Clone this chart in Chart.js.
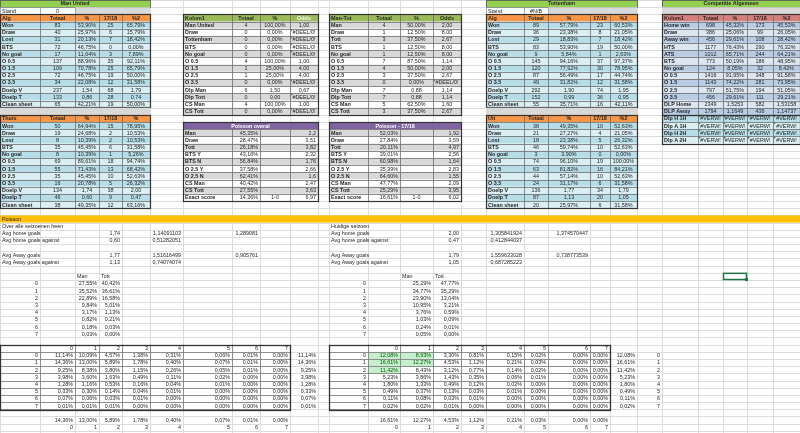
<!DOCTYPE html>
<html>
<head>
<meta charset="utf-8">
<script src="https://cdn.jsdelivr.net/npm/chart.js@4/dist/chart.umd.min.js"></script>
<style>
  html, body { margin: 0; padding: 0; background: #fff; overflow: hidden; }
  canvas { display: block; }
</style>
</head>
<body>
<canvas id="sheet" width="800" height="433"></canvas>
<script>
// ===== Team stats (Man United / Tottenham) =====
const algRows = ["Won", "Draw", "Lost", "BTS", "No goal", "O 0.5", "O 1.5", "O 2.5", "O 3.5", "Doelp V", "Doelp T", "Clean sheet"];
const headAlg = ["Alg", "Totaal", "%", "17/18", "%2"];
const headThuis = ["Thuis", "Totaal", "%", "17/18", "%"];
const headUit = ["Uit", "Totaal", "%", "17/18", "%2"];

const manAlg = [
  ["83", "53,90%", "25", "65,79%"], ["40", "25,97%", "6", "15,79%"], ["31", "20,13%", "7", "18,42%"],
  ["72", "46,75%", "0", "0,00%"], ["17", "11,04%", "3", "7,89%"], ["137", "88,96%", "35", "92,11%"],
  ["109", "70,78%", "25", "65,79%"], ["72", "46,75%", "19", "50,00%"], ["34", "22,08%", "12", "31,58%"],
  ["237", "1,54", "68", "1,79"], ["133", "0,86", "28", "0,74"], ["65", "42,21%", "19", "50,00%"]
];
const manThuis = [
  ["50", "64,94%", "15", "78,95%"], ["19", "24,68%", "2", "10,53%"], ["8", "10,39%", "2", "10,53%"],
  ["35", "45,45%", "6", "31,58%"], ["8", "10,39%", "1", "5,26%"], ["69", "89,61%", "18", "94,74%"],
  ["55", "71,43%", "13", "68,42%"], ["35", "45,45%", "10", "52,63%"], ["16", "20,78%", "5", "26,32%"],
  ["134", "1,74", "38", "2,00"], ["46", "0,60", "9", "0,47"], ["38", "49,35%", "12", "63,16%"]
];
const totAlg = [
  ["89", "57,79%", "23", "60,53%"], ["36", "23,38%", "8", "21,05%"], ["29", "18,83%", "7", "18,42%"],
  ["83", "53,90%", "19", "50,00%"], ["9", "5,84%", "1", "2,63%"], ["145", "94,16%", "37", "97,37%"],
  ["120", "77,92%", "30", "78,95%"], ["87", "56,49%", "17", "44,74%"], ["49", "31,82%", "12", "31,58%"],
  ["292", "1,90", "74", "1,95"], ["152", "0,99", "36", "0,95"], ["55", "35,71%", "16", "42,11%"]
];
const totUit = [
  ["38", "49,35%", "10", "52,63%"], ["21", "27,27%", "4", "21,05%"], ["18", "23,38%", "5", "26,32%"],
  ["46", "59,74%", "10", "52,63%"], ["3", "3,90%", "0", "0,00%"], ["74", "96,10%", "19", "100,00%"],
  ["63", "81,82%", "16", "84,21%"], ["44", "57,14%", "10", "52,63%"], ["24", "31,17%", "6", "31,58%"],
  ["136", "1,77", "34", "1,79"], ["87", "1,13", "20", "1,05"], ["20", "25,97%", "6", "31,58%"]
];

// ===== Head to head =====
const h2hHead = ["Kolom1", "Totaal", "%", "Odds"];
const h2hRows = ["Man United", "Draw", "Tottenham", "BTS", "No goal", "O 0.5", "O 1.5", "O 2.5", "O 3.5", "Dlp Man", "Dlp Tott", "CS Man", "CS Tott"];
const h2hVals = [
  ["4", "100,00%", "1,00"], ["0", "0,00%", "#DEEL/0!"], ["0", "0,00%", "#DEEL/0!"], ["0", "0,00%", "#DEEL/0!"],
  ["0", "0,00%", "#DEEL/0!"], ["4", "100,00%", "1,00"], ["1", "25,00%", "4,00"], ["1", "25,00%", "4,00"],
  ["0", "0,00%", "#DEEL/0!"], ["6", "1,50", "0,67"], ["0", "0,00", "#DEEL/0!"], ["4", "100,00%", "1,00"],
  ["0", "0,00%", "#DEEL/0!"]
];
const mtHead = ["Man-Tot", "Totaal", "%", "Odds"];
const mtRows = ["Man", "Draw", "Tott", "BTS", "No goal", "O 0.5", "O 1.5", "O 2.5", "O 3.5", "Dlp Man", "Dlp Tott", "CS Man", "CS Tott"];
const mtVals = [
  ["4", "50,00%", "2,00"], ["1", "12,50%", "8,00"], ["3", "37,50%", "2,67"], ["1", "12,50%", "8,00"],
  ["1", "12,50%", "8,00"], ["7", "87,50%", "1,14"], ["4", "50,00%", "2,00"], ["3", "37,50%", "2,67"],
  ["0", "0,00%", "#DEEL/0!"], ["7", "0,88", "1,14"], ["7", "0,88", "1,14"], ["5", "62,50%", "1,60"],
  ["3", "37,50%", "2,67"]
];

// ===== Poisson summary tables =====
const poisRows = ["Man", "Draw", "Tott", "BTS Y", "BTS N", "O 2.5 Y", "O 2.5 N", "CS Man", "CS Tott", "Exact score"];
const poisAll = [
  ["45,35%", "", "2,2"], ["28,47%", "", "3,51"], ["26,18%", "", "3,82"], ["43,16%", "", "2,32"], ["56,84%", "", "1,76"],
  ["37,58%", "", "2,66"], ["62,41%", "", "1,6"], ["40,42%", "", "2,47"], ["27,55%", "", "3,63"], ["14,36%", "1-0", "6,97"]
];
const pois1718 = [
  ["52,03%", "", "1,92"], ["27,84%", "", "3,59"], ["20,11%", "", "4,97"], ["39,01%", "", "2,56"], ["60,98%", "", "1,64"],
  ["35,39%", "", "2,83"], ["64,60%", "", "1,55"], ["47,77%", "", "2,09"], ["25,29%", "", "3,95"], ["16,61%", "1-0", "6,02"]
];

// ===== Competitie Algemeen =====
const compHead = ["Kolom1", "Totaal", "%", "17/18", "%2"];
const compRows = ["Home win", "Draw", "Away win", "HTS", "ATS", "BTS", "No goal", "O 0.5", "O 1.5", "O 2.5", "O 3.5", "DLP Home", "DLP Away", "Dlp H 1H", "Dlp A 1H", "Dlp H 2H", "Dlp A 2H"];
const compVals = [
  ["698", "45,32%", "173", "45,53%"], ["386", "25,06%", "99", "26,05%"], ["456", "29,61%", "108", "28,42%"],
  ["1177", "76,43%", "290", "76,32%"], ["1012", "65,71%", "244", "64,21%"], ["773", "50,19%", "186", "48,95%"],
  ["124", "8,05%", "32", "8,42%"], ["1416", "91,95%", "348", "91,58%"], ["1143", "74,22%", "281", "73,95%"],
  ["797", "51,75%", "194", "51,05%"], ["456", "29,61%", "111", "29,21%"], ["2349", "1,5253", "582", "1,53158"],
  ["1794", "1,1649", "436", "1,14737"],
  ["#VERW!", "#VERW!", "#VERW!", "#VERW!"], ["#VERW!", "#VERW!", "#VERW!", "#VERW!"],
  ["#VERW!", "#VERW!", "#VERW!", "#VERW!"], ["#VERW!", "#VERW!", "#VERW!", "#VERW!"]
];

// ===== Poisson section =====
const avgLabels = ["Avg home goals", "Avg home goals against", "", "Avg Away goals", "Avg Away goals against"];
const avgAll = [["1,74", "1,14091103", "1,289081"], ["0,60", "0,51282051", ""], ["", "", ""], ["1,77", "1,51616499", "0,905761"], ["1,13", "0,74074074", ""]];
const avgNow = [["2,00", "1,305841924", "1,374570447"], ["0,47", "0,412844037", ""], ["", "", ""], ["1,79", "1,559633028", "0,738773539"], ["1,05", "0,687285223", ""]];

const goals = ["0", "1", "2", "3", "4", "5", "6", "7"];
const goalsAllMan = ["27,55%", "35,52%", "22,89%", "9,84%", "3,17%", "0,82%", "0,18%", "0,03%"];
const goalsAllTot = ["40,42%", "36,61%", "16,58%", "5,01%", "1,13%", "0,21%", "0,03%", "0,00%"];
const goalsNowMan = ["25,29%", "34,77%", "23,90%", "10,95%", "3,76%", "1,03%", "0,24%", "0,05%"];
const goalsNowTot = ["47,77%", "35,29%", "13,04%", "3,21%", "0,59%", "0,09%", "0,01%", "0,00%"];

const scoreAll = [
  ["11,14%", "10,09%", "4,57%", "1,38%", "0,31%", "0,06%", "0,01%", "0,00%"],
  ["14,36%", "13,00%", "5,89%", "1,78%", "0,40%", "0,07%", "0,01%", "0,00%"],
  ["9,25%", "8,38%", "3,80%", "1,15%", "0,26%", "0,05%", "0,01%", "0,00%"],
  ["3,98%", "3,60%", "1,63%", "0,49%", "0,11%", "0,02%", "0,00%", "0,00%"],
  ["1,28%", "1,16%", "0,53%", "0,16%", "0,04%", "0,01%", "0,00%", "0,00%"],
  ["0,33%", "0,30%", "0,14%", "0,04%", "0,01%", "0,00%", "0,00%", "0,00%"],
  ["0,07%", "0,06%", "0,03%", "0,01%", "0,00%", "0,00%", "0,00%", "0,00%"],
  ["0,01%", "0,01%", "0,01%", "0,00%", "0,00%", "0,00%", "0,00%", "0,00%"]
];
const scoreAllRowMax = ["11,14%", "14,36%", "9,25%", "3,98%", "1,28%", "0,33%", "0,07%", "0,01%"];
const scoreAllColMax = ["14,36%", "13,00%", "5,89%", "1,78%", "0,40%", "0,07%", "0,01%", "0,00%"];

const scoreNow = [
  ["12,08%", "8,93%", "3,30%", "0,81%", "0,15%", "0,02%", "0,00%", "0,00%"],
  ["16,61%", "12,27%", "4,53%", "1,12%", "0,21%", "0,03%", "0,00%", "0,00%"],
  ["11,42%", "8,43%", "3,12%", "0,77%", "0,14%", "0,02%", "0,00%", "0,00%"],
  ["5,23%", "3,86%", "1,43%", "0,35%", "0,06%", "0,01%", "0,00%", "0,00%"],
  ["1,80%", "1,33%", "0,49%", "0,12%", "0,02%", "0,00%", "0,00%", "0,00%"],
  ["0,49%", "0,37%", "0,13%", "0,03%", "0,01%", "0,00%", "0,00%", "0,00%"],
  ["0,11%", "0,08%", "0,03%", "0,01%", "0,00%", "0,00%", "0,00%", "0,00%"],
  ["0,02%", "0,02%", "0,01%", "0,00%", "0,00%", "0,00%", "0,00%", "0,00%"]
];
const scoreNowRowMax = ["12,08%", "16,61%", "11,42%", "5,23%", "1,80%", "0,49%", "0,11%", "0,02%"];
const scoreNowColMax = ["16,61%", "12,27%", "4,53%", "1,12%", "0,21%", "0,03%", "0,00%", "0,00%"];
const scoreNowHighlight = [[0, 0], [1, 0], [2, 0], [0, 1], [1, 1]];

// ===== Sheet layout (column edges in sheet units, row count) =====
const colEdges = [0, 40, 75, 99, 122, 150, 183, 232, 260, 290, 318, 329, 368, 400, 433, 461, 486, 524, 548, 590, 610, 637, 662, 698, 723, 747, 773, 800];
const rowCount = 433 / 7.18;

const GREEN = "#92d050", ORANGE = "#f79646", GREY = "#d9d9d9";
const BLUE_D = "#b7dee8", BLUE_L = "#daeef3";
const OLIVE = "#9bbb59", PURPLE = "#8064a2", RED = "#d6807d";
const STEEL_D = "#b8cce4", STEEL_L = "#dce6f1";
const FONT = '"Liberation Sans", Arial, sans-serif';

const sheetPlugin = {
  id: "sheet",
  afterDraw(chart) {
    const ctx = chart.ctx, xs = chart.scales.x, ys = chart.scales.y;
    const X = c => xs.getPixelForValue(colEdges[c]);
    const Y = r => ys.getPixelForValue(r);
    const snap = v => Math.round(v) + 0.5;

    const fill = (c0, c1, r, color) => {
      ctx.fillStyle = color;
      ctx.fillRect(X(c0), Y(r), X(c1 + 1) - X(c0), Y(r + 1) - Y(r));
    };
    const write = (c0, c1, r, s, align, st = {}) => {
      if (!s) return;
      const x0 = X(c0), x1 = X(c1 + 1);
      ctx.font = (st.bold ? "bold " : "") + "5.4px " + FONT;
      ctx.fillStyle = st.color || "#262626";
      ctx.textBaseline = "middle";
      ctx.textAlign = align;
      const x = align === "left" ? x0 + 2 : align === "right" ? x1 - 2 : (x0 + x1) / 2;
      ctx.fillText(s, x, (Y(r) + Y(r + 1)) / 2 + 0.4);
      if (s[0] === "#" && s.length > 4) { // error marker
        ctx.fillStyle = "#1e8a3c";
        ctx.beginPath();
        ctx.moveTo(x0 + 0.5, Y(r) + 0.5); ctx.lineTo(x0 + 3, Y(r) + 0.5); ctx.lineTo(x0 + 0.5, Y(r) + 3);
        ctx.fill();
      }
    };
    const grid = (c0, c1, r0, r1, color, w) => {
      ctx.strokeStyle = color; ctx.lineWidth = w;
      ctx.beginPath();
      for (let c = c0; c <= c1 + 1; c++) { const x = snap(X(c)); ctx.moveTo(x, Y(r0)); ctx.lineTo(x, Y(r1 + 1)); }
      for (let r = r0; r <= r1 + 1; r++) { const y = snap(Y(r)); ctx.moveTo(X(c0), y); ctx.lineTo(X(c1 + 1), y); }
      ctx.stroke();
    };
    const outline = (c0, c1, r0, r1, color, w) => {
      ctx.strokeStyle = color; ctx.lineWidth = w;
      ctx.strokeRect(snap(X(c0)), snap(Y(r0)), Math.round(X(c1 + 1) - X(c0)), Math.round(Y(r1 + 1) - Y(r0)));
    };

    ctx.save();
    ctx.fillStyle = "#fff";
    ctx.fillRect(0, 0, chart.width, chart.height);

    // excel gridlines
    ctx.strokeStyle = "#dcdcdc"; ctx.lineWidth = 1;
    ctx.beginPath();
    colEdges.forEach((_, c) => { const x = snap(X(c)); ctx.moveTo(x, 0); ctx.lineTo(x, chart.height); });
    for (let r = 0; r <= Math.ceil(rowCount); r++) { const y = snap(Y(r)); ctx.moveTo(0, y); ctx.lineTo(chart.width, y); }
    ctx.stroke();

    // team stat tables
    function statTable(c, r, head, vals) {
      head.forEach((h, i) => { fill(c + i, c + i, r, ORANGE); write(c + i, c + i, r, h, i ? "center" : "left", { bold: true }); });
      algRows.forEach((lab, j) => {
        fill(c, c + 4, r + 1 + j, j % 2 ? BLUE_L : BLUE_D);
        write(c, c, r + 1 + j, lab, "left", { bold: true });
        vals[j].forEach((v, i) => write(c + 1 + i, c + 1 + i, r + 1 + j, v, "center"));
      });
      grid(c, c + 4, r, r + algRows.length, "#6e6e6e", 0.8);
      outline(c, c + 4, r, r + algRows.length, "#333", 1.2);
    }
    function teamBlock(c, name, stand, alg, headB, second) {
      fill(c, c + 4, 0, GREEN);
      write(c, c + 4, 0, name, "center", { bold: true });
      outline(c, c + 4, 0, 0, "#555", 0.8);
      write(c, c, 1, "Stand", "left");
      write(c + 1, c + 1, 1, stand, "center");
      fill(c + 2, c + 4, 1, GREY);
      grid(c, c + 1, 1, 1, "#9a9a9a", 0.8);
      statTable(c, 2, headAlg, alg);
      fill(c, c + 4, 15, GREY);
      statTable(c, 16, headB, second);
    }
    teamBlock(0, "Man United", "0", manAlg, headThuis, manThuis);
    teamBlock(16, "Tottenham", "#N/B", totAlg, headUit, totUit);

    // head to head tables
    function h2hTable(c, head, labels, vals) {
      head.forEach((h, i) => {
        fill(c + i, c + i, 2, OLIVE);
        write(c + i, c + i, 2, h, i ? "center" : "left", { bold: true, color: h === "Odds" && c === 6 ? "#f4f4f4" : "#262626" });
      });
      labels.forEach((lab, j) => {
        const r = 3 + j;
        fill(c, c + 3, r, j % 2 ? "#ffffff" : GREY);
        write(c, c, r, lab, "left", { bold: true });
        vals[j].forEach((v, i) => write(c + 1 + i, c + 1 + i, r, v, "center"));
      });
      grid(c, c + 3, 2, 2 + labels.length, "#6e6e6e", 0.8);
      outline(c, c + 3, 2, 2 + labels.length, "#333", 1.2);
    }
    h2hTable(6, h2hHead, h2hRows, h2hVals);
    h2hTable(11, mtHead, mtRows, mtVals);

    // poisson summary tables
    function poisTable(c, title, vals) {
      fill(c, c + 3, 17, PURPLE);
      write(c, c + 3, 17, title, "center", { bold: true, color: "#fff" });
      poisRows.forEach((lab, j) => {
        const r = 18 + j;
        fill(c, c + 3, r, j % 2 ? "#ffffff" : GREY);
        write(c, c, r, lab, "left", { bold: true });
        write(c + 1, c + 1, r, vals[j][0], "right");
        write(c + 2, c + 2, r, vals[j][1], "center");
        write(c + 3, c + 3, r, vals[j][2], "right");
      });
      grid(c, c + 3, 18, 17 + poisRows.length, "#6e6e6e", 0.8);
      outline(c, c + 3, 17, 17 + poisRows.length, "#333", 1.2);
    }
    poisTable(6, "Poisson overal", poisAll);
    poisTable(11, "Poisson - 17/18", pois1718);

    // competitie algemeen
    fill(22, 26, 0, GREEN);
    write(22, 26, 0, "Competitie Algemeen", "center", { bold: true });
    outline(22, 26, 0, 0, "#555", 0.8);
    fill(22, 26, 1, GREY);
    compHead.forEach((h, i) => { fill(22 + i, 22 + i, 2, RED); write(22 + i, 22 + i, 2, h, i ? "center" : "left", { bold: true }); });
    compRows.forEach((lab, j) => {
      const r = 3 + j;
      const dlp = j >= 13;
      fill(22, 26, r, dlp ? (j % 2 ? BLUE_D : BLUE_L) : (j % 2 ? STEEL_L : STEEL_D));
      write(22, 22, r, lab, "left", { bold: true });
      compVals[j].forEach((v, i) => write(23 + i, 23 + i, r, v, "center"));
    });
    grid(22, 26, 2, 2 + compRows.length, "#6e6e6e", 0.8);
    outline(22, 26, 2, 15, "#333", 1.2);
    outline(22, 26, 16, 2 + compRows.length, "#333", 1.2);

    // poisson section
    fill(0, 26, 30, "#ffc000");
    write(0, 3, 30, "Poisson", "left");
    write(0, 3, 31, "Over alle seizoenen heen", "left");
    write(11, 14, 31, "Huidige seizoen", "left");
    avgLabels.forEach((lab, j) => {
      const r = 32 + j;
      write(0, 2, r, lab, "left");
      write(11, 13, r, lab, "left");
      write(3, 3, r, avgAll[j][0], "right");
      write(5, 5, r, avgAll[j][1], "right");
      write(7, 7, r, avgAll[j][2], "right");
      write(14, 14, r, avgNow[j][0], "right");
      write(16, 16, r, avgNow[j][1], "right");
      write(18, 18, r, avgNow[j][2], "right");
    });
    write(2, 2, 38, "Man", "left"); write(3, 3, 38, "Tott", "left");
    write(13, 13, 38, "Man", "left"); write(14, 14, 38, "Tott", "left");
    goals.forEach((g, j) => {
      const r = 39 + j;
      write(0, 0, r, g, "right");
      write(2, 2, r, goalsAllMan[j], "right");
      write(3, 3, r, goalsAllTot[j], "right");
      write(11, 11, r, g, "right");
      write(13, 13, r, goalsNowMan[j], "right");
      write(14, 14, r, goalsNowTot[j], "right");
    });

    // score matrices
    function matrix(c, vals, rowMax, colMax, highlight) {
      (highlight || []).forEach(([rr, cc]) => fill(c + 1 + cc, c + 1 + cc, 49 + rr, "#c6efce"));
      goals.forEach((g, i) => {
        write(c + 1 + i, c + 1 + i, 48, g, "right");
        write(c, c, 49 + i, g, "right");
        vals[i].forEach((v, k) => {
          const hl = (highlight || []).some(([rr, cc]) => rr === i && cc === k);
          write(c + 1 + k, c + 1 + k, 49 + i, v, "right", { color: hl ? "#006100" : "#262626" });
        });
        write(c + 9, c + 9, 49 + i, rowMax[i], "right");
        write(c + 1 + i, c + 1 + i, 58, colMax[i], "right");
        write(c + 1 + i, c + 1 + i, 59, g, "right");
      });
      grid(c, c + 8, 48, 56, "#7a7a7a", 0.8);
      outline(c, c + 8, 48, 56, "#333", 1.3);
    }
    matrix(0, scoreAll, scoreAllRowMax, scoreAllColMax, null);
    matrix(11, scoreNow, scoreNowRowMax, scoreNowColMax, scoreNowHighlight);
    goals.forEach((g, i) => write(21, 21, 49 + i, g, "right"));

    // selected cell
    ctx.strokeStyle = "#217346"; ctx.lineWidth = 1.5;
    ctx.strokeRect(X(24) + 0.5, Y(38) + 0.5, X(25) - X(24) - 1, Y(39) - Y(38) - 1);
    ctx.fillStyle = "#217346";
    ctx.fillRect(X(25) - 2, Y(39) - 2, 3, 3);
    ctx.restore();
  }
};

new Chart(document.getElementById("sheet"), {
  type: "scatter",
  data: { datasets: [] },
  options: {
    responsive: false,
    animation: false,
    layout: { padding: 0 },
    plugins: { legend: { display: false }, tooltip: { enabled: false } },
    scales: {
      x: { type: "linear", min: 0, max: colEdges[colEdges.length - 1], display: false },
      y: { type: "linear", min: 0, max: rowCount, reverse: true, display: false }
    }
  },
  plugins: [sheetPlugin]
});
</script>
</body>
</html>
